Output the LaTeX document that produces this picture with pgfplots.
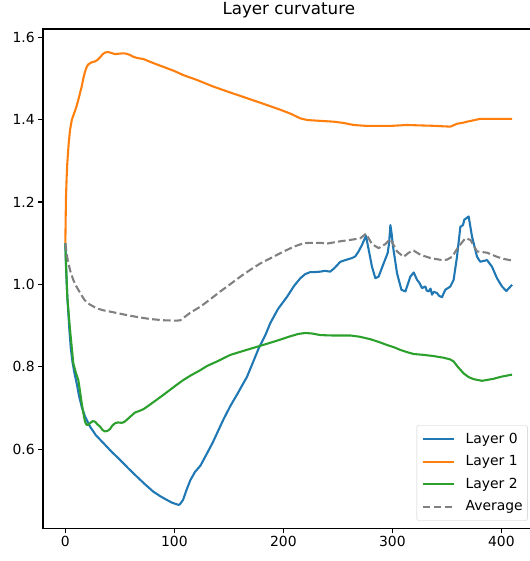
\documentclass[border=0pt]{standalone}
\usepackage{fontspec}
\setmainfont{DejaVu Sans}
\usepackage{pgfplots}
\pgfplotsset{compat=1.18}
\definecolor{c0}{HTML}{1F77B4}
\definecolor{c1}{HTML}{FF7F0E}
\definecolor{c2}{HTML}{2CA02C}
\definecolor{cg}{HTML}{808080}
\begin{document}
\begin{tikzpicture}
\begin{axis}[
  at={(43bp,32.7bp)}, anchor=south west,
  scale only axis, width=491.6bp, height=499.3bp,
  xmin=-20.5, xmax=430.5, ymin=0.408, ymax=1.620,
  xtick={0,100,200,300,400},
  ytick={0.6,0.8,1.0,1.2,1.4,1.6},
  axis line style={line width=1.11bp},
  tick style={line width=1.11bp, black},
  tick align=outside, major tick length=4.86bp,
  xtick pos=bottom, ytick pos=left,
  /pgf/number format/assume math mode=true,
  yticklabel style={/pgf/number format/.cd, fixed, fixed zerofill, precision=1},
  tick label style={font=\fontsize{13.9bp}{16bp}\selectfont},
  title={Layer curvature},
  title style={font=\fontsize{16.7bp}{20bp}\selectfont, anchor=base, yshift=8.3bp, inner sep=0pt},
  legend style={at={(1,0)}, anchor=south east, xshift=-7bp, yshift=7.6bp,
    draw=black!20, rounded corners=2bp, fill=white, fill opacity=0.8, text opacity=1,
    font=\fontsize{13.9bp}{16bp}\selectfont, inner xsep=4.7bp, inner ysep=7bp,
    nodes={inner sep=0pt, text height=10.5bp, text depth=3bp}, row sep=9bp},
  legend cell align=left,
  legend image code/.code={\draw[#1] (0bp,0bp) -- (31bp,0bp); \path (42bp,0bp);},
  every axis plot/.append style={line width=2.08bp, line join=round},
]
\addplot[c0] coordinates {(0,1.100) (0.5,1.05) (1.8,0.970) (3.7,0.890) (5,0.845) (6.7,0.809) (8.5,0.783) (10.4,0.760) (12.5,0.730) (15,0.703) (18,0.680) (22.6,0.655) (28,0.634) (34.9,0.615) (42,0.595) (50.2,0.574) (58,0.553) (65.4,0.534) (73,0.515) (80.7,0.497) (87,0.486) (93,0.477) (98,0.470) (103.7,0.465) (105,0.466) (108,0.477) (111,0.500) (114.7,0.525) (119,0.545) (123.9,0.560) (130,0.590) (135,0.615) (139.2,0.639) (145,0.672) (151.4,0.705) (158,0.735) (166.7,0.776) (172,0.810) (177.4,0.845) (183.5,0.877) (188,0.906) (195,0.940) (203.4,0.970) (210,0.997) (215.6,1.015) (220,1.025) (224.8,1.030) (229,1.030) (234,1.031) (238,1.033) (243,1.031) (247,1.040) (252.3,1.055) (258,1.060) (263,1.064) (266,1.068) (269,1.080) (272,1.095) (275.8,1.118) (278.3,1.084) (281.3,1.043) (284.4,1.015) (287.4,1.019) (292,1.051) (295.7,1.076) (297,1.10) (298.2,1.144) (299.5,1.12) (300.6,1.092) (304.3,1.027) (308.3,0.987) (312,0.983) (316.5,1.019) (319.6,1.029) (322.7,1.011) (325,1.003) (327.2,0.991) (330.3,0.995) (331.5,0.985) (333.3,0.983) (335,0.990) (336.4,0.975) (338,0.982) (341,0.979) (343,0.972) (345.6,0.969) (347,0.978) (348.6,0.987) (353.2,0.995) (356.2,1.011) (359.3,1.067) (362.4,1.140) (364.8,1.144) (366,1.157) (370,1.165) (373.1,1.116) (377.7,1.067) (380.7,1.055) (386.9,1.059) (391.4,1.043) (396,1.015) (400.6,0.995) (404.6,0.984) (409.8,0.999)};
\addlegendentry{Layer 0}
\addplot[c1] coordinates {(0,1.100) (0.3,1.16) (0.6,1.213) (1.2,1.26) (1.8,1.295) (3,1.34) (4.3,1.375) (6,1.40) (8,1.415) (10,1.43) (11.9,1.448) (13.5,1.465) (15,1.48) (16.5,1.50) (18,1.516) (19.5,1.527) (21,1.534) (24,1.539) (27,1.541) (29.5,1.545) (31.8,1.551) (34,1.558) (36.4,1.563) (39.4,1.564) (42,1.562) (45.6,1.559) (49,1.560) (53.2,1.561) (56,1.560) (59.3,1.557) (62,1.553) (65.4,1.550) (71.6,1.547) (80,1.538) (90,1.528) (100,1.518) (108.3,1.508) (120,1.497) (136,1.480) (150,1.467) (166.7,1.452) (180,1.440) (197.2,1.424) (207,1.414) (215.6,1.403) (222,1.399) (227.8,1.398) (246.2,1.395) (255,1.392) (264.5,1.387) (275,1.385) (289,1.385) (300,1.385) (313.5,1.387) (325,1.386) (337.9,1.385) (345,1.384) (353.2,1.383) (356,1.386) (359.3,1.390) (364,1.392) (368.5,1.395) (374,1.398) (380.7,1.402) (396,1.402) (409.8,1.402)};
\addlegendentry{Layer 1}
\addplot[c2] coordinates {(0,1.100) (0.6,1.051) (1.8,0.970) (4.3,0.890) (7.3,0.809) (9.8,0.784) (11.9,0.768) (13.5,0.740) (15,0.712) (16.5,0.688) (18,0.667) (19.5,0.659) (21,0.659) (23,0.664) (25,0.668) (27.2,0.667) (29.5,0.660) (31.8,0.655) (34,0.647) (36.4,0.643) (39,0.645) (41,0.649) (43,0.657) (45.6,0.663) (48,0.665) (51.7,0.664) (54,0.666) (56.2,0.671) (60,0.680) (63.9,0.689) (67,0.692) (71.6,0.697) (77,0.707) (83.8,0.720) (90,0.732) (96,0.744) (102,0.756) (108.3,0.768) (115,0.779) (123.9,0.792) (130,0.802) (140,0.814) (151.4,0.829) (165,0.840) (178.9,0.851) (190,0.860) (197.2,0.866) (205,0.873) (214,0.880) (220,0.882) (226,0.881) (234,0.877) (245,0.876) (261.5,0.876) (270,0.873) (279.8,0.867) (288,0.860) (295,0.853) (302,0.847) (307.3,0.841) (313,0.836) (319.6,0.831) (328.7,0.829) (338,0.826) (347,0.822) (353,0.818) (356.2,0.813) (360,0.800) (365.4,0.784) (370,0.775) (374.6,0.770) (382.3,0.766) (392.9,0.771) (400,0.776) (409.8,0.781)};
\addlegendentry{Layer 2}
\addplot[cg, dash pattern=on 7.7bp off 3.3bp] coordinates {(0,1.100) (1.5,1.07) (2.8,1.051) (5,1.028) (7.3,1.011) (9.5,0.998) (11.9,0.987) (15,0.973) (18,0.961) (22,0.952) (28.7,0.942) (35,0.937) (41,0.934) (50,0.929) (59.4,0.924) (68,0.920) (77.7,0.916) (90,0.913) (102,0.912) (105.5,0.913) (110,0.922) (115,0.932) (123.9,0.946) (132,0.962) (142.2,0.983) (150,0.998) (160.6,1.019) (170,1.036) (178.9,1.051) (190,1.066) (200.3,1.080) (210,1.092) (218.6,1.100) (225,1.101) (234,1.101) (240,1.099) (246.2,1.102) (253,1.105) (261.5,1.108) (270.6,1.112) (275.8,1.123) (281.3,1.098) (287.4,1.088) (293.6,1.098) (298.2,1.110) (304.3,1.080) (310.4,1.067) (315,1.077) (319.6,1.082) (325.7,1.072) (334.9,1.064) (345.6,1.059) (350,1.060) (354.8,1.067) (360.8,1.092) (367,1.112) (371.6,1.108) (377.7,1.080) (386.9,1.077) (396,1.067) (402,1.062) (409.8,1.058)};
\addlegendentry{Average\hspace{6.3bp}}
\end{axis}
\pgfresetboundingbox
\path[use as bounding box] (0bp,0bp) rectangle (530bp,561bp);
\end{tikzpicture}
\end{document}
